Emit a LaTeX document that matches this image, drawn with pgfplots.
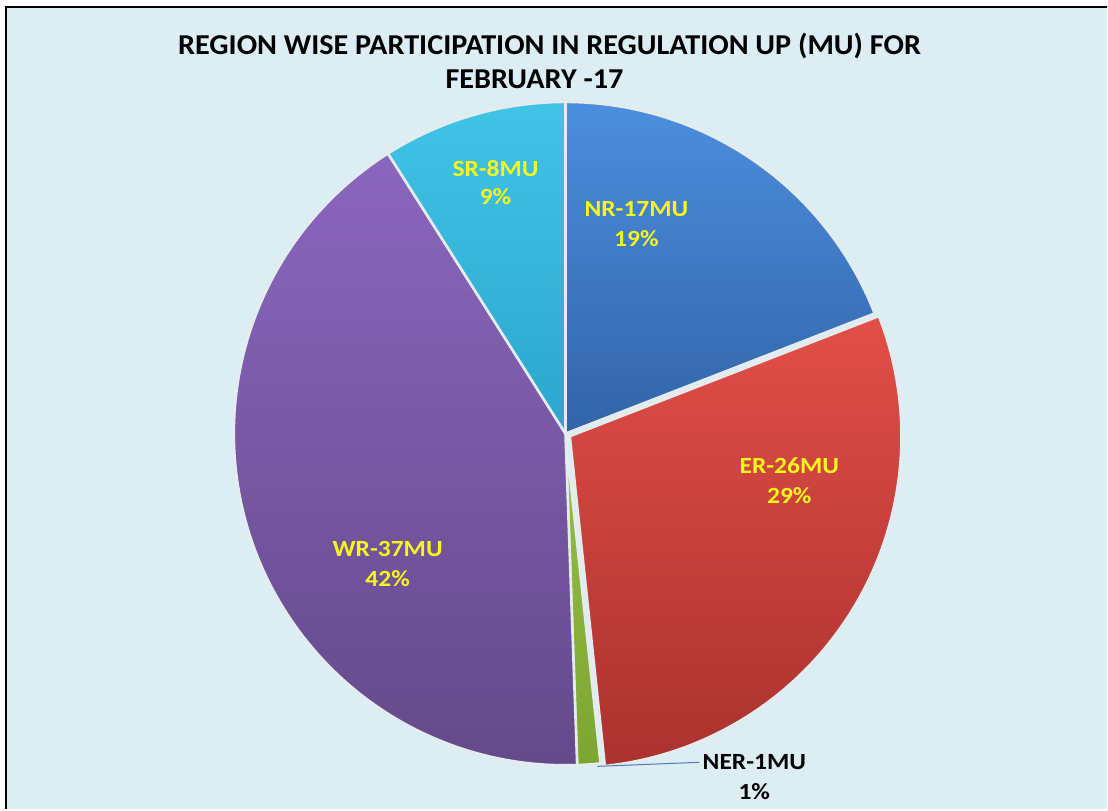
\documentclass[border=0pt]{standalone}
\usepackage{fontspec}
\setmainfont{Carlito}
\usepackage{pgfplots}
\pgfplotsset{compat=1.18}
\usepackage{pgfplotstable}

\definecolor{bg}{RGB}{220,237,244}
\definecolor{labyellow}{RGB}{246,246,24}
\definecolor{sliceedge}{RGB}{228,236,238}
\definecolor{nrtop}{RGB}{76,142,222}
\definecolor{nrbot}{RGB}{50,100,168}
\definecolor{ertop}{RGB}{226,78,72}
\definecolor{erbot}{RGB}{170,50,46}
\definecolor{nertop}{RGB}{150,190,70}
\definecolor{nerbot}{RGB}{125,165,50}
\definecolor{wrtop}{RGB}{138,102,190}
\definecolor{wrbot}{RGB}{100,74,138}
\definecolor{srtop}{RGB}{64,196,230}
\definecolor{srbot}{RGB}{44,166,206}
\definecolor{leader}{RGB}{80,120,180}

\pgfplotstableread{
region value
NR 17
ER 26
NER 1
WR 37
SR 8
}\regiondata
\pgfplotstablegetelem{0}{value}\of\regiondata \let\vNR\pgfplotsretval
\pgfplotstablegetelem{1}{value}\of\regiondata \let\vER\pgfplotsretval
\pgfplotstablegetelem{2}{value}\of\regiondata \let\vNER\pgfplotsretval
\pgfplotstablegetelem{3}{value}\of\regiondata \let\vWR\pgfplotsretval
\pgfplotstablegetelem{4}{value}\of\regiondata \let\vSR\pgfplotsretval
\pgfmathsetmacro\tot{\vNR+\vER+\vNER+\vWR+\vSR}
\pgfmathsetmacro\aA{90}
\pgfmathsetmacro\aB{\aA-360*\vNR/\tot}
\pgfmathsetmacro\aC{\aB-360*\vER/\tot}
\pgfmathsetmacro\aD{\aC-360*\vNER/\tot}
\pgfmathsetmacro\aE{\aD-360*\vWR/\tot}
\pgfmathsetmacro\aF{\aE-360*\vSR/\tot}

% #1 start (larger) angle, #2 end angle, #3 top colour, #4 bottom colour, #5 #6 offset
\newcommand\slice[6]{%
  \addplot[draw=sliceedge, line width=1.3pt, line join=round,
    top color=#3, bottom color=#4, domain=#2:#1, samples=120, variable=\t]
    ({#5+332*cos(t)},{#6+332*sin(t)}) -- (axis cs:#5,#6) -- cycle;}

\newcommand\labfont{\fontsize{11.6}{13}\selectfont\bfseries}
\newcommand\titfont{\fontsize{14.4}{16}\selectfont\bfseries}
\newcommand\lab[1]{\scalebox{1.1}[1]{#1}}
\newcommand\tit[1]{\scalebox{1.05}[1]{#1}}

\begin{document}
\begin{tikzpicture}
\begin{axis}[
  width=554pt, height=405pt, scale only axis,
  xmin=-566, xmax=542, ymin=-376, ymax=434,
  axis lines=none, ticks=none, clip=false,
  axis background/.style={fill=bg},
]
% white margin and frame
\fill[white] (axis cs:-566,426.5) rectangle (axis cs:542,434);
\fill[white] (axis cs:-566,-376) rectangle (axis cs:-560,434);
\draw[black, line width=1pt] (axis cs:-560,-376) -- (axis cs:-560,426.5) -- (axis cs:542,426.5);

\slice{\aA}{\aB}{nrtop}{nrbot}{0}{0}
\slice{\aB}{\aC}{ertop}{erbot}{4.3}{-2.6}
\slice{\aC}{\aD}{nertop}{nerbot}{0}{0}
\slice{\aD}{\aE}{wrtop}{wrbot}{0}{0}
\slice{\aE}{\aF}{srtop}{srbot}{0}{0}

\addplot[draw=leader, line width=0.5pt] coordinates {(32,-333) (134,-329)};

% title
\node[anchor=base, font=\titfont] at (axis cs:-16,379) {\tit{REGION WISE PARTICIPATION IN REGULATION UP (MU) FOR}};
\node[anchor=base, font=\titfont] at (axis cs:-31,345) {\tit{FEBRUARY -17}};

% labels
\node[anchor=base, font=\labfont, text=labyellow] at (axis cs:71,217) {\lab{NR-17MU}};
\node[anchor=base, font=\labfont, text=labyellow] at (axis cs:71,187) {\lab{19\%}};
\node[anchor=base, font=\labfont, text=labyellow] at (axis cs:224,-40) {\lab{ER-26MU}};
\node[anchor=base, font=\labfont, text=labyellow] at (axis cs:224,-70) {\lab{29\%}};
\node[anchor=base, font=\labfont, text=labyellow] at (axis cs:-178,-123) {\lab{WR-37MU}};
\node[anchor=base, font=\labfont, text=labyellow] at (axis cs:-178,-153) {\lab{42\%}};
\node[anchor=base, font=\labfont, text=labyellow] at (axis cs:-70,257) {\lab{SR-8MU}};
\node[anchor=base, font=\labfont, text=labyellow] at (axis cs:-70,229) {\lab{9\%}};
\node[anchor=base, font=\labfont] at (axis cs:189,-336) {\lab{NER-1MU}};
\node[anchor=base, font=\labfont] at (axis cs:189,-366) {\lab{1\%}};
\end{axis}
\end{tikzpicture}
\end{document}
